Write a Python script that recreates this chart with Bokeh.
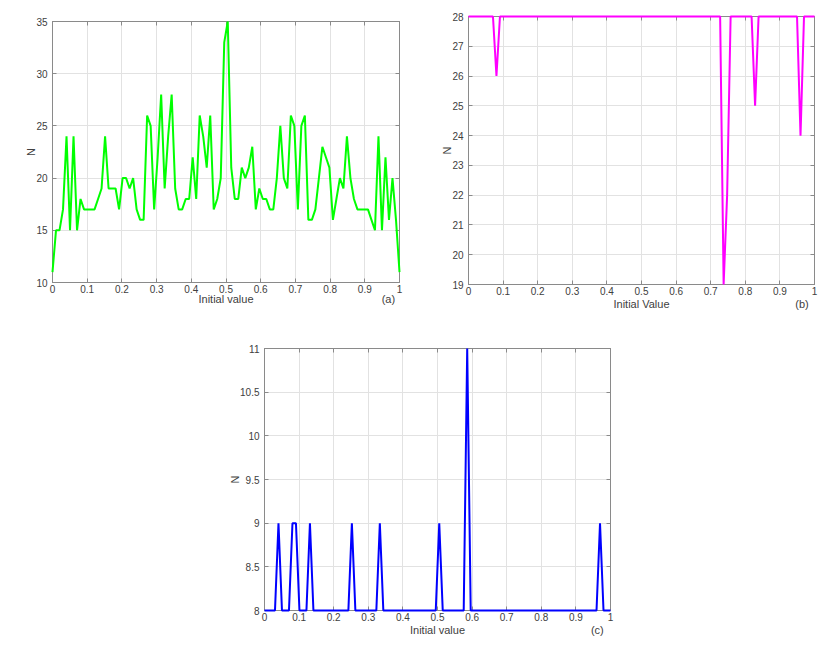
from bokeh.plotting import figure
from bokeh.layouts import column, row
from bokeh.models import Spacer, FixedTicker, LinearAxis, Range1d
from bokeh.embed import file_html
from bokeh.resources import INLINE

# ---------------- data ----------------
n_points = 100
initial_value = [i / (n_points - 1) for i in range(n_points)]

n_a = [11, 15, 15, 17, 24, 15, 24, 15, 18, 17,
       17, 17, 17, 18, 19, 24, 19, 19, 19, 17,
       20, 20, 19, 20, 17, 16, 16, 26, 25, 17,
       22, 28, 19, 24, 28, 19, 17, 17, 18, 18,
       22, 18, 26, 24, 21, 26, 17, 18, 20, 33,
       35, 21, 18, 18, 21, 20, 21, 23, 17, 19,
       18, 18, 17, 17, 20, 25, 20, 19, 26, 25,
       17, 25, 26, 16, 16, 17, 20, 23, 22, 21,
       16, 18, 20, 19, 24, 20, 18, 17, 17, 17,
       17, 16, 15, 24, 15, 22, 16, 20, 16, 11]

n_b = [28, 28, 28, 28, 28, 28, 28, 28, 26, 28,
       28, 28, 28, 28, 28, 28, 28, 28, 28, 28,
       28, 28, 28, 28, 28, 28, 28, 28, 28, 28,
       28, 28, 28, 28, 28, 28, 28, 28, 28, 28,
       28, 28, 28, 28, 28, 28, 28, 28, 28, 28,
       28, 28, 28, 28, 28, 28, 28, 28, 28, 28,
       28, 28, 28, 28, 28, 28, 28, 28, 28, 28,
       28, 28, 28, 19, 22, 28, 28, 28, 28, 28,
       28, 28, 25, 28, 28, 28, 28, 28, 28, 28,
       28, 28, 28, 28, 28, 24, 28, 28, 28, 28]

n_c = [8, 8, 8, 8, 9, 8, 8, 8, 9, 9,
       8, 8, 8, 9, 8, 8, 8, 8, 8, 8,
       8, 8, 8, 8, 8, 9, 8, 8, 8, 8,
       8, 8, 8, 9, 8, 8, 8, 8, 8, 8,
       8, 8, 8, 8, 8, 8, 8, 8, 8, 8,
       9, 8, 8, 8, 8, 8, 8, 8, 11, 8,
       8, 8, 8, 8, 8, 8, 8, 8, 8, 8,
       8, 8, 8, 8, 8, 8, 8, 8, 8, 8,
       8, 8, 8, 8, 8, 8, 8, 8, 8, 8,
       8, 8, 8, 8, 8, 8, 9, 8, 8, 8]

x_ticks = [0, 0.1, 0.2, 0.3, 0.4, 0.5, 0.6, 0.7, 0.8, 0.9, 1]
x_tick_labels = ["0", "0.1", "0.2", "0.3", "0.4", "0.5", "0.6", "0.7", "0.8", "0.9", "1"]
y_ticks_a = [10, 15, 20, 25, 30, 35]
y_tick_labels_a = ["10", "15", "20", "25", "30", "35"]
y_ticks_b = [19, 20, 21, 22, 23, 24, 25, 26, 27, 28]
y_tick_labels_b = ["19", "20", "21", "22", "23", "24", "25", "26", "27", "28"]
y_ticks_c = [8, 8.5, 9, 9.5, 10, 10.5, 11]
y_tick_labels_c = ["8", "8.5", "9", "9.5", "10", "10.5", "11"]

x_titles = ["Initial value", "Initial Value", "Initial value"]
panel_tags = ["(a)", "(b)", "(c)"]
tag_positions = [0.968, 0.964, 0.962]

FONT = "Liberation Sans"
AXIS_COLOR = "#8a8a8a"
TEXT_COLOR = "#404040"
GRID_COLOR = "#e2e2e2"


def base_axis(ax, ticks):
    ax.ticker = FixedTicker(ticks=ticks)
    ax.major_tick_in = 4
    ax.major_tick_out = 0
    ax.minor_tick_in = 0
    ax.minor_tick_out = 0
    ax.axis_line_color = AXIS_COLOR
    ax.major_tick_line_color = AXIS_COLOR
    ax.major_label_text_font = FONT
    ax.major_label_text_color = TEXT_COLOR
    ax.major_label_text_font_size = "10px"
    ax.axis_label_text_font = FONT
    ax.axis_label_text_color = TEXT_COLOR
    ax.axis_label_text_font_style = "normal"
    ax.axis_label_text_font_size = "11px"


def hidden_label_axis(ax, ticks):
    base_axis(ax, ticks)
    ax.major_label_text_color = None
    ax.major_label_text_font_size = "1px"
    ax.major_label_standoff = 0


def make_panel(yvals, color, ymin, ymax, yticks, ylabels, xtitle, tag, tag_x,
               w, h, bl, br, bt, bb, title_standoff):
    p = figure(width=w, height=h,
               x_range=Range1d(0, 1), y_range=Range1d(ymin, ymax),
               output_backend="svg", toolbar_location=None,
               min_border_left=bl, min_border_right=br,
               min_border_top=bt, min_border_bottom=bb)
    p.background_fill_color = "white"
    p.border_fill_color = "white"
    p.outline_line_color = AXIS_COLOR
    p.line(initial_value, yvals, line_color=color, line_width=2,
           level="overlay")

    # bottom axis with tick labels
    xa = p.xaxis[0]
    base_axis(xa, x_ticks)
    xa.major_label_overrides = {t: l for t, l in zip(x_ticks, x_tick_labels)}
    xa.major_label_standoff = 2

    # second bottom axis carrying the x title and the panel tag on one line
    xt = LinearAxis()
    base_axis(xt, [0.5, tag_x])
    xt.major_label_overrides = {0.5: xtitle, tag_x: tag}
    xt.major_label_text_font_size = "11px"
    xt.major_label_standoff = title_standoff
    xt.major_tick_in = 0
    xt.axis_line_color = None
    xt.major_tick_line_color = None
    p.add_layout(xt, "below")

    ya = p.yaxis[0]
    base_axis(ya, yticks)
    ya.major_label_overrides = {t: l for t, l in zip(yticks, ylabels)}
    ya.major_label_standoff = 5
    ya.axis_label = "N"
    ya.axis_label_standoff = -4

    top = LinearAxis()
    hidden_label_axis(top, x_ticks)
    p.add_layout(top, "above")
    right = LinearAxis()
    hidden_label_axis(right, yticks)
    p.add_layout(right, "right")

    p.xgrid.ticker = FixedTicker(ticks=x_ticks)
    p.ygrid.ticker = FixedTicker(ticks=yticks)
    p.grid.grid_line_color = GRID_COLOR
    p.grid.grid_line_width = 1
    return p


pa = make_panel(n_a, "#00ff00", 10, 35, y_ticks_a, y_tick_labels_a,
                x_titles[0], panel_tags[0], tag_positions[0],
                419, 312, 52, 20, 21, 30, -3)
pb = make_panel(n_b, "#ff00ff", 19, 28, y_ticks_b, y_tick_labels_b,
                x_titles[1], panel_tags[1], tag_positions[1],
                399, 312, 49, 4, 16, 27, 0)
pc = make_panel(n_c, "#0000ff", 8, 11, y_ticks_c, y_tick_labels_c,
                x_titles[2], panel_tags[2], tag_positions[2],
                396, 326, 40, 10, 36, 27, 0)

layout = column(row(column(pa), column(pb)),
                row(Spacer(width=224, height=10), pc))

open("out.html", "w").write(file_html(layout, INLINE))
